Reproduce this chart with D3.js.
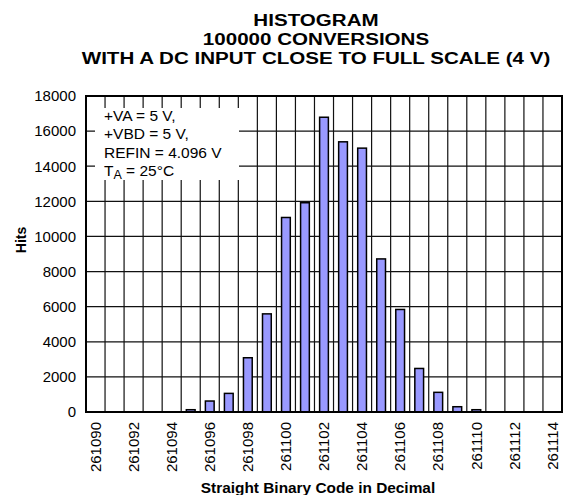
<!DOCTYPE html>
<html>
<head>
<meta charset="utf-8">
<script src="https://d3js.org/d3.v7.min.js"></script>
<style>
  body { margin: 0; background: #fff; }
  text { font-family: "Liberation Sans", Arial, sans-serif; }
</style>
</head>
<body>
<script>
// chart data
var codes = [261090, 261091, 261092, 261093, 261094, 261095, 261096, 261097, 261098,
             261099, 261100, 261101, 261102, 261103, 261104, 261105, 261106, 261107,
             261108, 261109, 261110, 261111, 261112, 261113, 261114];
var hits = [0, 0, 0, 0, 0, 130, 625, 1060, 3090, 5590, 11080, 11920, 16790, 15390,
            15030, 8720, 5840, 2480, 1120, 300, 130, 0, 0, 0, 0];
var yTicks = [0, 2000, 4000, 6000, 8000, 10000, 12000, 14000, 16000, 18000];
var xTickLabels = [261090, 261092, 261094, 261096, 261098, 261100, 261102,
                   261104, 261106, 261108, 261110, 261112, 261114];
var titleLines = ["HISTOGRAM", "100000 CONVERSIONS", "WITH A DC INPUT CLOSE TO FULL SCALE (4 V)"];
var noteLines = ["+VA = 5 V,", "+VBD = 5 V,", "REFIN = 4.096 V"];

var svgWidth = 565;
var svgHeight = 495;

var margin = {
    top: 96,
    right: 3,
    bottom: 83,
    left: 86
};
var width = svgWidth - margin.left - margin.right;
var height = svgHeight - margin.top - margin.bottom;

var svg = d3.select("body")
    .append("svg")
    .attr("width", svgWidth)
    .attr("height", svgHeight);

var chartGroup = svg.append("g")
    .attr("transform", `translate(${margin.left}, ${margin.top})`);

// scales
var xScale = d3.scaleBand()
    .domain(codes)
    .range([0, width])
    .padding(0);

var yScale = d3.scaleLinear()
    .domain([0, 18000])
    .range([height, 0]);

// grid lines
chartGroup.append("g")
    .selectAll("line")
    .data(yTicks)
    .enter()
    .append("line")
    .attr("x1", 0)
    .attr("x2", width)
    .attr("y1", d => yScale(d))
    .attr("y2", d => yScale(d))
    .attr("stroke", "#111")
    .attr("stroke-width", 1.2);

chartGroup.append("g")
    .selectAll("line")
    .data(codes.slice(1))
    .enter()
    .append("line")
    .attr("x1", d => xScale(d))
    .attr("x2", d => xScale(d))
    .attr("y1", 0)
    .attr("y2", height)
    .attr("stroke", "#111")
    .attr("stroke-width", 1.2);

// note box sits over the grid
var note = chartGroup.append("g");
note.append("rect")
    .attr("x", 9)
    .attr("y", 12)
    .attr("width", 144)
    .attr("height", 72)
    .attr("fill", "#fff");

note.selectAll("text.note")
    .data(noteLines)
    .enter()
    .append("text")
    .attr("class", "note")
    .attr("x", 18)
    .attr("y", (d, i) => 25 + i * 18.3)
    .style("font-size", "15.5px")
    .text(d => d);

var ta = note.append("text")
    .attr("x", 18)
    .attr("y", 25 + 3 * 18.3)
    .style("font-size", "15.5px");
ta.append("tspan").text("T");
ta.append("tspan").attr("dy", 3).style("font-size", "12.5px").text("A");
ta.append("tspan").attr("dy", -3).text(" = 25°C");

// bars
var barW = xScale.bandwidth() * 0.46;

chartGroup.append("g")
    .selectAll("rect")
    .data(codes.map((c, i) => ({ code: c, hits: hits[i] })).filter(d => d.hits > 0))
    .enter()
    .append("rect")
    .attr("x", d => xScale(d.code) + (xScale.bandwidth() - barW) / 2)
    .attr("y", d => yScale(d.hits))
    .attr("width", barW)
    .attr("height", d => height - yScale(d.hits))
    .attr("fill", "#9999ff")
    .attr("stroke", "#000")
    .attr("stroke-width", 1.5);

// frame
chartGroup.append("rect")
    .attr("x", 0)
    .attr("y", 0)
    .attr("width", width)
    .attr("height", height)
    .attr("fill", "none")
    .attr("stroke", "#000")
    .attr("stroke-width", 2);

// axes
var leftAxis = d3.axisLeft(yScale)
    .tickValues(yTicks)
    .tickSize(0)
    .tickPadding(10)
    .tickFormat(d => d);

var yAxisG = chartGroup.append("g").call(leftAxis);
yAxisG.select(".domain").remove();
yAxisG.selectAll("text")
    .style("font-family", "'Liberation Sans', Arial, sans-serif")
    .style("font-size", "15px")
    .attr("fill", "#000");

var bottomAxis = d3.axisBottom(xScale)
    .tickValues(xTickLabels)
    .tickSize(0)
    .tickPadding(0);

var xAxisG = chartGroup.append("g")
    .attr("transform", `translate(0, ${height})`)
    .call(bottomAxis);
xAxisG.select(".domain").remove();
xAxisG.selectAll("text")
    .style("font-family", "'Liberation Sans', Arial, sans-serif")
    .style("font-size", "15px")
    .attr("fill", "#000")
    .attr("transform", "rotate(-90)")
    .attr("text-anchor", "end")
    .attr("x", -10)
    .attr("y", 0)
    .attr("dy", "0.35em");

// title (wide bold face, stretched sideways)
svg.append("g")
    .selectAll("text")
    .data(titleLines)
    .enter()
    .append("text")
    .attr("transform", (d, i) => `translate(316, ${26 + i * 19}) scale(1.24, 1)`)
    .attr("text-anchor", "middle")
    .style("font-size", "16.6px")
    .style("font-weight", "bold")
    .text(d => d);

// axis labels
svg.append("text")
    .attr("transform", "rotate(-90)")
    .attr("x", -240)
    .attr("y", 26)
    .attr("text-anchor", "middle")
    .style("font-size", "14px")
    .style("font-weight", "bold")
    .text("Hits");

svg.append("text")
    .attr("x", 318)
    .attr("y", 493)
    .attr("text-anchor", "middle")
    .style("font-size", "15.4px")
    .style("font-weight", "bold")
    .text("Straight Binary Code in Decimal");
</script>
</body>
</html>
